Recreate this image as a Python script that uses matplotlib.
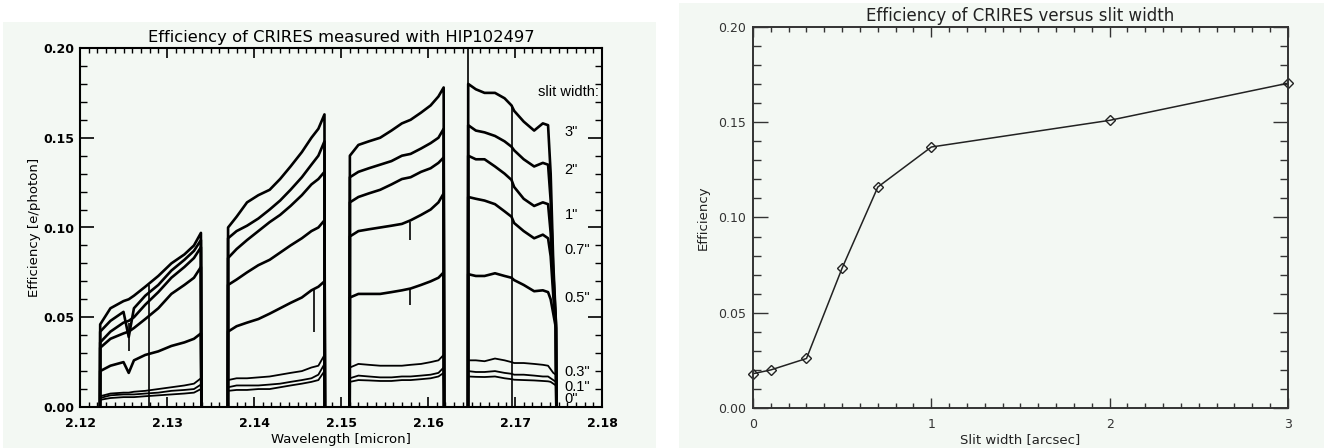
import numpy as np
import matplotlib
matplotlib.use("Agg")
import matplotlib.pyplot as plt
from matplotlib.patches import Rectangle
from matplotlib.ticker import MultipleLocator

plt.rcParams.update({
    "font.family": "DejaVu Sans",
    "font.size": 9,
    "xtick.direction": "in",
    "ytick.direction": "in",
    "xtick.top": True,
    "ytick.right": True,
})

W, H = 1324, 448
bg = "#f3f8f3"

slit_names = ['3"', '2"', '1"', '0.7"', '0.5"', '0.3"', '0.1"', '0"']
label_y = [0.153, 0.132, 0.107, 0.0875, 0.0607, 0.0195, 0.0111, 0.0045]

# detector chip wavelengths (micron), edges drop to zero
chip1_wl = [2.1223, 2.12232, 2.1235, 2.1250, 2.1256, 2.1262, 2.1275, 2.1290, 2.1305, 2.1320, 2.1331, 2.1339, 2.13395]
chip1 = [
    [0, 0.046, 0.055, 0.059, 0.060, 0.062, 0.067, 0.073, 0.080, 0.085, 0.090, 0.097, 0],
    [0, 0.042, 0.048, 0.053, 0.039, 0.055, 0.062, 0.068, 0.076, 0.082, 0.087, 0.093, 0],
    [0, 0.036, 0.042, 0.047, 0.048, 0.050, 0.057, 0.064, 0.072, 0.078, 0.083, 0.089, 0],
    [0, 0.033, 0.038, 0.041, 0.042, 0.044, 0.049, 0.055, 0.063, 0.068, 0.072, 0.078, 0],
    [0, 0.020, 0.023, 0.025, 0.019, 0.026, 0.029, 0.031, 0.034, 0.036, 0.038, 0.041, 0],
    [0, 0.006, 0.0075, 0.008, 0.008, 0.0085, 0.009, 0.010, 0.011, 0.012, 0.013, 0.016, 0],
    [0, 0.005, 0.0065, 0.007, 0.007, 0.007, 0.0075, 0.008, 0.009, 0.0095, 0.010, 0.0125, 0],
    [0, 0.004, 0.005, 0.0055, 0.0055, 0.0055, 0.006, 0.0065, 0.007, 0.0075, 0.008, 0.010, 0],
]

chip2_wl = [2.1370, 2.13702, 2.1380, 2.1392, 2.1405, 2.1418, 2.1430, 2.1442, 2.1455, 2.1466, 2.1474, 2.1481, 2.14815]
chip2 = [
    [0, 0.100, 0.106, 0.114, 0.118, 0.121, 0.127, 0.134, 0.142, 0.150, 0.155, 0.163, 0],
    [0, 0.094, 0.098, 0.101, 0.105, 0.110, 0.115, 0.121, 0.128, 0.135, 0.140, 0.148, 0],
    [0, 0.083, 0.088, 0.093, 0.098, 0.103, 0.107, 0.112, 0.118, 0.124, 0.127, 0.131, 0],
    [0, 0.068, 0.071, 0.075, 0.079, 0.082, 0.086, 0.090, 0.094, 0.098, 0.100, 0.104, 0],
    [0, 0.042, 0.045, 0.047, 0.049, 0.052, 0.055, 0.058, 0.061, 0.065, 0.067, 0.070, 0],
    [0, 0.015, 0.016, 0.016, 0.0165, 0.017, 0.018, 0.019, 0.020, 0.022, 0.023, 0.029, 0],
    [0, 0.011, 0.012, 0.012, 0.012, 0.0125, 0.013, 0.014, 0.015, 0.016, 0.018, 0.024, 0],
    [0, 0.009, 0.0095, 0.0095, 0.010, 0.010, 0.011, 0.012, 0.013, 0.014, 0.015, 0.020, 0],
]

chip3_wl = [2.1510, 2.15102, 2.1520, 2.1532, 2.1545, 2.1558, 2.1570, 2.1580, 2.1592, 2.1603, 2.1612, 2.1618, 2.16185]
chip3 = [
    [0, 0.140, 0.146, 0.148, 0.150, 0.154, 0.158, 0.160, 0.164, 0.168, 0.173, 0.178, 0],
    [0, 0.128, 0.131, 0.133, 0.135, 0.137, 0.140, 0.141, 0.144, 0.147, 0.150, 0.155, 0],
    [0, 0.114, 0.117, 0.119, 0.121, 0.124, 0.127, 0.128, 0.131, 0.133, 0.136, 0.139, 0],
    [0, 0.095, 0.098, 0.099, 0.100, 0.101, 0.102, 0.104, 0.107, 0.110, 0.114, 0.119, 0],
    [0, 0.061, 0.063, 0.063, 0.063, 0.064, 0.065, 0.066, 0.068, 0.070, 0.072, 0.075, 0],
    [0, 0.022, 0.024, 0.0235, 0.023, 0.023, 0.023, 0.0235, 0.024, 0.025, 0.026, 0.029, 0],
    [0, 0.016, 0.0175, 0.017, 0.0165, 0.0165, 0.017, 0.017, 0.0175, 0.018, 0.019, 0.022, 0],
    [0, 0.014, 0.015, 0.0148, 0.0145, 0.0145, 0.015, 0.015, 0.0155, 0.016, 0.017, 0.019, 0],
]

chip4_wl = [2.1646, 2.16462, 2.1655, 2.1665, 2.1677, 2.1688, 2.1696, 2.1699, 2.1710, 2.1722, 2.1732, 2.1738, 2.1741, 2.1744, 2.1747, 2.17475]
chip4 = [
    [0, 0.180, 0.177, 0.175, 0.175, 0.172, 0.168, 0.165, 0.159, 0.154, 0.158, 0.157, 0.130, 0.080, 0.048, 0],
    [0, 0.157, 0.154, 0.153, 0.151, 0.148, 0.145, 0.143, 0.138, 0.134, 0.136, 0.135, 0.115, 0.075, 0.047, 0],
    [0, 0.140, 0.138, 0.138, 0.134, 0.130, 0.1265, 0.1226, 0.116, 0.112, 0.114, 0.113, 0.097, 0.068, 0.046, 0],
    [0, 0.117, 0.116, 0.115, 0.113, 0.109, 0.106, 0.1025, 0.098, 0.094, 0.096, 0.094, 0.084, 0.062, 0.045, 0],
    [0, 0.074, 0.073, 0.073, 0.0745, 0.073, 0.072, 0.0707, 0.068, 0.0645, 0.065, 0.064, 0.060, 0.052, 0.044, 0],
    [0, 0.026, 0.026, 0.0255, 0.027, 0.026, 0.025, 0.0245, 0.0245, 0.024, 0.0235, 0.023, 0.021, 0.019, 0.018, 0],
    [0, 0.020, 0.0195, 0.0195, 0.020, 0.019, 0.0185, 0.018, 0.018, 0.0175, 0.017, 0.017, 0.016, 0.015, 0.014, 0],
    [0, 0.017, 0.0168, 0.0167, 0.017, 0.016, 0.0155, 0.0152, 0.015, 0.0148, 0.0145, 0.0143, 0.014, 0.013, 0.012, 0],
]

# bad columns / deep lines: wavelength, low, high
spike_wl = [2.1256, 2.1279, 2.1469, 2.1579, 2.1579, 2.1646, 2.1697]
spike_lo = [0.031, 0.0, 0.042, 0.057, 0.093, 0.0, 0.0]
spike_hi = [0.047, 0.068, 0.066, 0.066, 0.103, 0.200, 0.168]

# efficiency vs slit width
slit_width = [0, 0.1, 0.3, 0.5, 0.7, 1, 2, 3]
efficiency = [0.018, 0.020, 0.026, 0.0735, 0.116, 0.137, 0.151, 0.1705]

fig = plt.figure(figsize=(W / 100, H / 100), dpi=100, facecolor="white")
fig.patches.append(Rectangle((3 / W, 0), 653 / W, 1 - 22 / H, transform=fig.transFigure,
                             facecolor=bg, edgecolor="none", zorder=-10))
fig.patches.append(Rectangle((679 / W, 0), 645 / W, 1 - 3 / H, transform=fig.transFigure,
                             facecolor=bg, edgecolor="none", zorder=-10))

# ---- left: spectra
ax1 = fig.add_axes([80 / W, 1 - 407 / H, 522 / W, 359 / H], facecolor=bg)
for wl, chip in [(chip1_wl, chip1), (chip2_wl, chip2), (chip3_wl, chip3), (chip4_wl, chip4)]:
    for vals in chip:
        lw = 1.9 if max(vals) > 0.03 else 1.3
        ax1.plot(wl, vals, color="black", lw=lw)
ax1.vlines(spike_wl, spike_lo, spike_hi, color="black", lw=1.2)

ax1.text(2.1726, 0.1755, "slit width:", family="Liberation Sans", fontsize=10.5,
         va="center", ha="left", clip_on=False)
for name, y in zip(slit_names, label_y):
    ax1.text(2.1757, y, name, family="Liberation Sans", fontsize=10.5, va="center", ha="left")

ax1.set_xlim(2.12, 2.18)
ax1.set_ylim(0, 0.20)
ax1.xaxis.set_major_locator(MultipleLocator(0.01))
ax1.xaxis.set_minor_locator(MultipleLocator(0.001))
ax1.yaxis.set_major_locator(MultipleLocator(0.05))
ax1.yaxis.set_minor_locator(MultipleLocator(0.01))
ax1.xaxis.set_major_formatter(lambda v, p: f"{v:.2f}")
ax1.yaxis.set_major_formatter(lambda v, p: f"{v:.2f}")
ax1.tick_params(axis="x", which="major", length=7, width=1.2, pad=7)
ax1.tick_params(axis="x", which="minor", length=3.5, width=1.0)
ax1.tick_params(axis="y", which="major", length=10, width=1.2, pad=4)
ax1.tick_params(axis="y", which="minor", length=5, width=1.0)
for lab in ax1.get_xticklabels() + ax1.get_yticklabels():
    lab.set_fontweight("bold")
for s in ax1.spines.values():
    s.set_linewidth(1.5)
ax1.set_title("Efficiency of CRIRES measured with HIP102497", fontsize=11.8, pad=4)
ax1.set_xlabel("Wavelength [micron]", fontsize=9.5, labelpad=2)
ax1.set_ylabel("Efficiency [e/photon]", fontsize=9.5, labelpad=2)

# ---- right: efficiency vs slit width
ax2 = fig.add_axes([753 / W, 1 - 408 / H, 535 / W, 381 / H], facecolor=bg)
ax2.plot(slit_width, efficiency, color="#222222", lw=1.1, marker="D", markersize=5,
         markerfacecolor="none", markeredgecolor="#222222", markeredgewidth=1.0, clip_on=False)
ax2.set_xlim(0, 3)
ax2.set_ylim(0, 0.20)
ax2.xaxis.set_major_locator(MultipleLocator(1))
ax2.xaxis.set_minor_locator(MultipleLocator(0.1))
ax2.yaxis.set_major_locator(MultipleLocator(0.05))
ax2.yaxis.set_minor_locator(MultipleLocator(0.01))
ax2.xaxis.set_major_formatter(lambda v, p: f"{v:.0f}")
ax2.yaxis.set_major_formatter(lambda v, p: f"{v:.2f}")
ax2.tick_params(axis="x", which="major", length=7.5, width=1.0, pad=7, colors="#333333")
ax2.tick_params(axis="x", which="minor", length=3.8, width=1.0, colors="#333333")
ax2.tick_params(axis="y", which="major", length=11, width=1.0, pad=5, colors="#333333")
ax2.tick_params(axis="y", which="minor", length=5.5, width=1.0, colors="#333333")
for s in ax2.spines.values():
    s.set_linewidth(1.4)
    s.set_color("#333333")
ax2.set_title("Efficiency of CRIRES versus slit width", fontsize=12, pad=4, color="#222222")
ax2.set_xlabel("Slit width [arcsec]", fontsize=9.5, labelpad=2, color="#222222")
ax2.set_ylabel("Efficiency", fontsize=9.5, labelpad=6, color="#222222")

fig.savefig("out.png", dpi=100, facecolor=fig.get_facecolor())
